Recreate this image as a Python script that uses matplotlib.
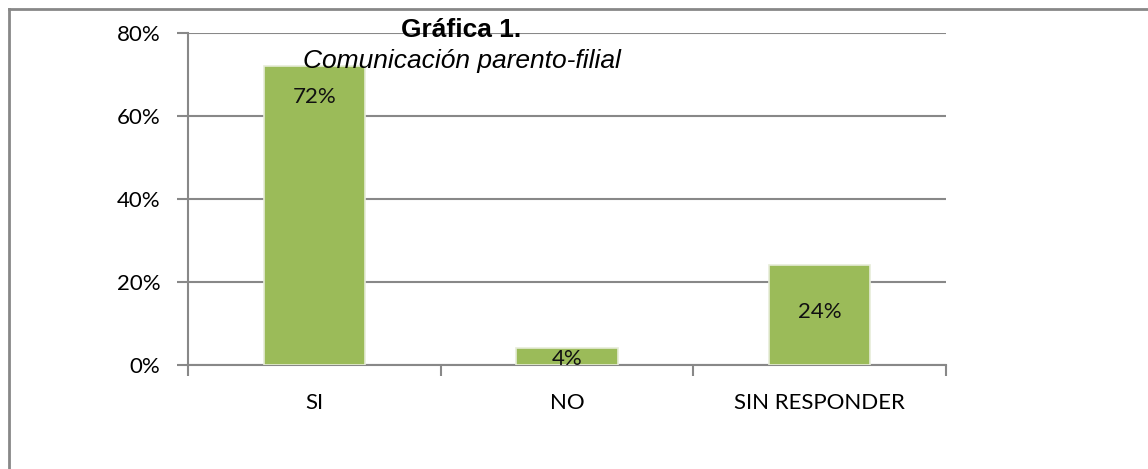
import matplotlib as mpl
mpl.use('Agg')
import matplotlib.pyplot as plt
from matplotlib.lines import Line2D

categories = ['SI', 'NO', 'SIN RESPONDER']
values = [72, 4, 24]
value_labels = ['72%', '4%', '24%']
yticks = [0, 20, 40, 60, 80]
ytick_labels = ['0%', '20%', '40%', '60%', '80%']

# where the value labels sit (data units)
label_y = [64.6, 1.4, 12.8]

grey = '#888888'
green = '#9BBB59'

fig = plt.figure(figsize=(11.48, 4.69), dpi=100, facecolor='w')
ax = fig.add_axes([188/1148, 1-365/469, (946-188)/1148, (365-33)/469])

xs = range(len(categories))
ax.bar(xs, values, width=0.4, color=green, edgecolor='#e6ecd8', linewidth=1.2, zorder=3)

for x, y, t in zip(xs, label_y, value_labels):
    ax.text(x, y, t, ha='center', va='center', fontsize=16, family='Lato', color='#111111', zorder=4)

ax.set_xlim(-0.5, 2.5)
ax.set_ylim(0, 80)
ax.set_yticks(yticks)
ax.set_yticklabels(ytick_labels, family='Lato', fontsize=16)
ax.yaxis.grid(True, color=grey, linewidth=1.5, zorder=0)

ax.set_xticks([-0.5, 0.5, 1.5, 2.5])
ax.set_xticklabels([])
ax.set_xticks(list(xs), minor=True)
ax.set_xticklabels(categories, minor=True, family='Lato', fontsize=16)
ax.tick_params(axis='x', which='major', length=8, width=1.5, color=grey)
ax.tick_params(axis='x', which='minor', length=0, pad=20)
ax.tick_params(axis='y', length=8, width=1.5, color=grey, pad=12)

for s in ['top', 'right']:
    ax.spines[s].set_visible(False)
for s in ['left', 'bottom']:
    ax.spines[s].set_color(grey)
    ax.spines[s].set_linewidth(1.5)

fig.text(461/1148, 1-37/469, 'Gráfica 1.', ha='center', va='baseline',
         family='Liberation Sans', fontweight='bold', fontsize=19)
fig.text(462/1148, 1-68/469, 'Comunicación parento-filial', ha='center', va='baseline',
         family='Liberation Sans', style='italic', fontsize=19)

# outer frame of the chart area (only top and left edges are in view)
fig.add_artist(Line2D([8.5/1148, 1], [1-9.5/469, 1-9.5/469], color=grey, linewidth=2))
fig.add_artist(Line2D([8.5/1148, 8.5/1148], [0, 1-9.5/469], color=grey, linewidth=2))

plt.savefig('out.png', dpi=100)
